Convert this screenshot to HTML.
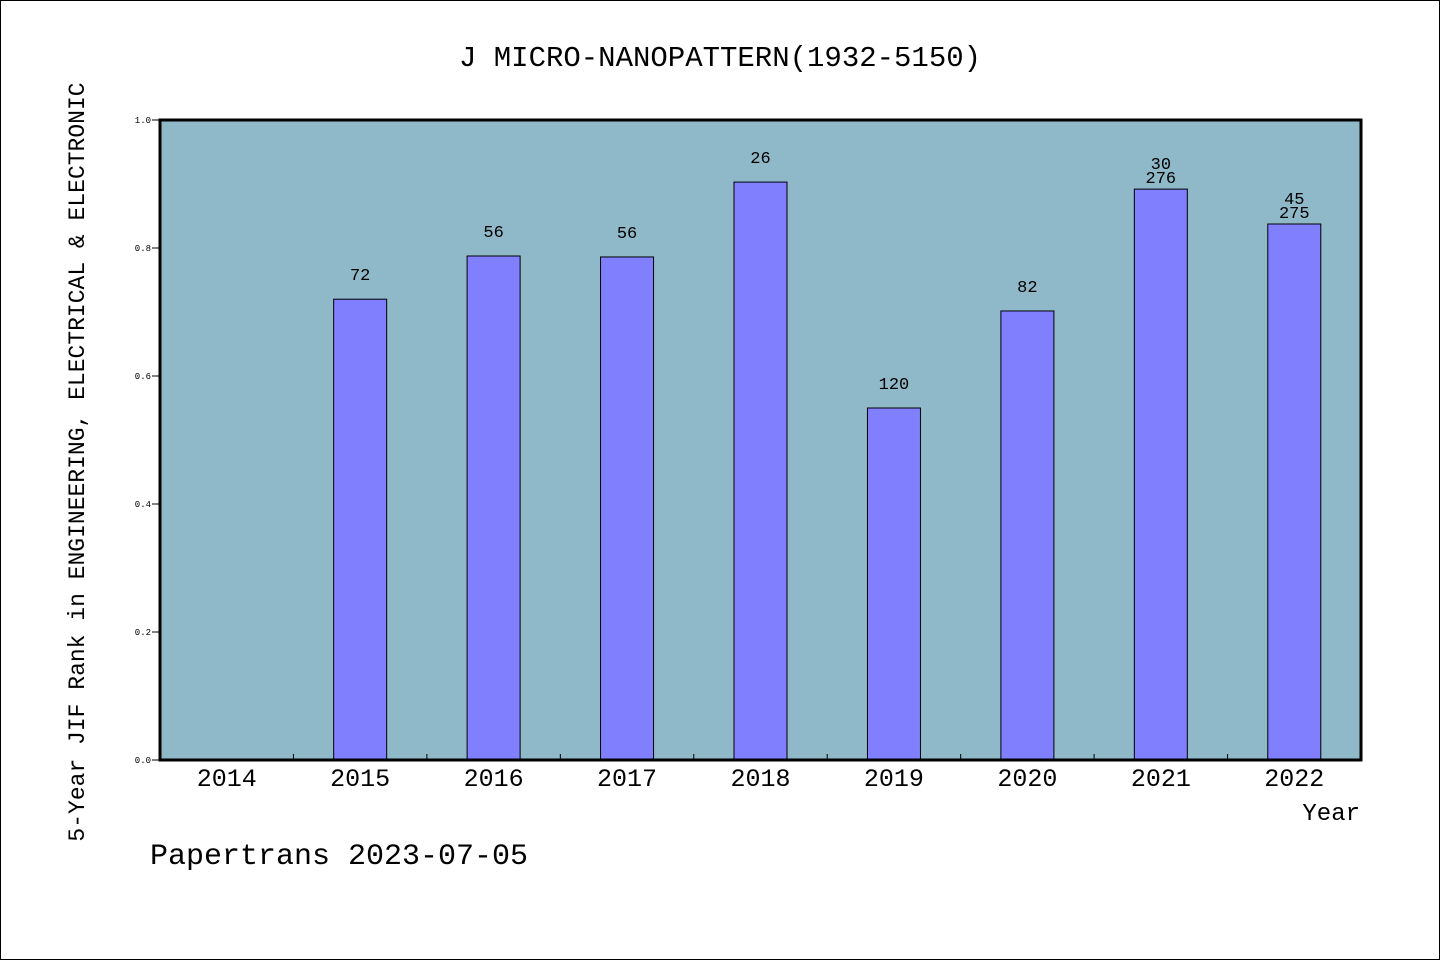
<!DOCTYPE html>
<html><head><meta charset="utf-8"><style>
html,body{margin:0;padding:0;background:#fff;}
svg{display:block;}
text{font-family:"Liberation Mono","WenQuanYi Zen Hei",monospace;fill:#000;}
</style></head><body>
<svg width="1440" height="960">
<rect x="0.5" y="0.5" width="1439" height="959" fill="#fff" stroke="#000"/>
<text x="720" y="66" font-size="29" text-anchor="middle">J MICRO-NANOPATTERN(1932-5150)</text>
<rect x="160" y="120" width="1201" height="640" fill="#8fb8c8"/>
<g id="marks"></g>
<rect x="160" y="120" width="1201" height="640" fill="none" stroke="#000" stroke-width="3"/>
<text transform="translate(84,462) rotate(-90)" font-size="23" text-anchor="middle">5-Year JIF Rank in ENGINEERING, ELECTRICAL &amp; ELECTRONIC</text>
<text x="1360" y="820" font-size="24" text-anchor="end">Year</text>
<text x="150" y="864" font-size="30">Papertrans 2023-07-05</text>
</svg>
<script>
const categories=["2014","2015","2016","2017","2018","2019","2020","2021","2022"];
const values=[null,0.720,0.7875,0.786,0.903,0.55,0.7016,0.892,0.8375];
const labelsTop=["","","","","","","","30","45"];
const labelsMain=["","72","56","56","26","120","82","276","275"];
const yTicks=[0,0.2,0.4,0.6,0.8,1.0];
const X0=160,X1=1361,Y0=760,Y1=120;
const bw=(X1-X0)/categories.length;
const xs=i=>X0+bw*(i+0.5);
const ys=v=>Y0-(v/1.0)*(Y0-Y1);
const ns="http://www.w3.org/2000/svg";
const g=document.getElementById('marks');
function mk(t,a){const e=document.createElementNS(ns,t);for(const k in a)e.setAttribute(k,a[k]);g.appendChild(e);return e;}
yTicks.forEach((t,i)=>{
  const l=mk('line',{x1:X0-8,x2:X0,y1:ys(t),y2:ys(t),stroke:'#000'});
  
  
  const tx=mk('text',{x:X0-9,y:ys(t)+3,'font-size':9,'text-anchor':'end'});
  tx.textContent=t.toFixed(1);
  
  
});
categories.forEach((c,i)=>{
  if(i>0){const l=mk('line',{x1:X0+bw*i,x2:X0+bw*i,y1:Y0,y2:Y0-6,stroke:'#000'});
  
  }
  const tx=mk('text',{x:xs(i),y:786,'font-size':25,'text-anchor':'middle'});
  tx.textContent=c;
  
  
  const v=values[i];
  if(v==null)return;
  const r=mk('rect',{x:xs(i)-26.5,y:ys(v),width:53,height:Y0-ys(v),fill:'#8080ff',stroke:'#000','stroke-width':1});
  
  
  const lb=mk('text',{x:xs(i),y:ys(v)-20+(labelsTop[i]?14:0)-(labelsTop[i]?8:0)+ (labelsTop[i]?0:0),'font-size':17,'text-anchor':'middle'});
  lb.setAttribute('y',labelsTop[i]?ys(v)-6:ys(v)-19);
  lb.textContent=labelsMain[i];
  
  
  if(labelsTop[i]){
    const lt=mk('text',{x:xs(i),y:ys(v)-20,'font-size':17,'text-anchor':'middle'});
    lt.textContent=labelsTop[i];
    
    
  }
});
</script>
</body></html>
